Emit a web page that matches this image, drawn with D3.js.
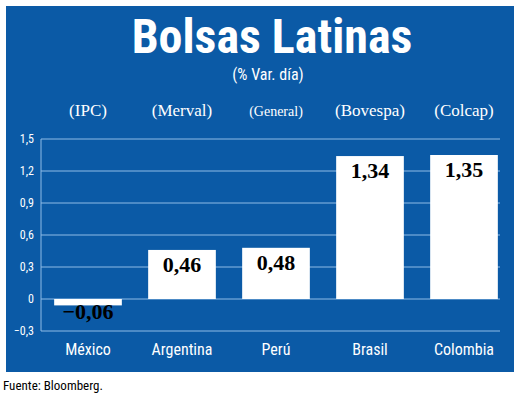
<!DOCTYPE html>
<html><head><meta charset="utf-8">
<script src="https://cdn.jsdelivr.net/npm/d3@7"></script>
<style>body{margin:0;background:#fff}</style>
</head><body>
<svg id="chart" width="520" height="412"></svg>
<script>
// Chart data
const countries = ["México", "Argentina", "Perú", "Brasil", "Colombia"];
const indices = ["(IPC)", "(Merval)", "(General)", "(Bovespa)", "(Colcap)"];
const values = [-0.06, 0.46, 0.48, 1.34, 1.35];
const ticks = [-0.3, 0, 0.3, 0.6, 0.9, 1.2, 1.5];

const svg = d3.select("#chart");
const narrow = "'Liberation Sans Narrow', 'Roboto Condensed', 'Open Sans', sans-serif";
const serif = "'Liberation Serif', 'DejaVu Serif', serif";
const fmt = v => d3.format(".2f")(v).replace(".", ",");
const tickFmt = v => v === 0 ? "0" : d3.format(".1f")(v).replace(".", ",");

svg.append("rect").attr("x", 6).attr("y", 6).attr("width", 508).attr("height", 366)
  .attr("fill", "#0b5aa6");

svg.append("text").attr("x", 272).attr("y", 53).attr("text-anchor", "middle")
  .attr("fill", "#fff").attr("font-family", narrow).attr("font-weight", "bold")
  .attr("font-size", 48).text("Bolsas Latinas");
svg.append("text").attr("x", 268).attr("y", 80).attr("text-anchor", "middle")
  .attr("fill", "#fff").attr("font-family", narrow).attr("font-size", 16).text("(% Var. día)");

const x = d3.scaleBand().domain(countries).range([41, 511]).paddingInner(0.28).paddingOuter(0.14);
const y = d3.scaleLinear().domain([-0.3, 1.5]).range([331, 139]);

// gridlines
svg.append("g").selectAll("line").data(ticks).join("line")
  .attr("x1", 41).attr("x2", 500).attr("y1", d => y(d)).attr("y2", d => y(d))
  .attr("stroke", "#8fbbe6").attr("stroke-width", 1);
svg.append("line").attr("x1", 41).attr("x2", 41).attr("y1", y(1.5)).attr("y2", y(-0.3))
  .attr("stroke", "#8fbbe6");

svg.append("g").selectAll("text").data(ticks).join("text")
  .attr("x", 34).attr("y", d => y(d) + 4).attr("text-anchor", "end")
  .attr("fill", "#fff").attr("font-family", narrow).attr("font-size", 12)
  .text(tickFmt);

svg.append("g").selectAll("rect").data(values).join("rect")
  .attr("x", (d, i) => x(countries[i])).attr("width", x.bandwidth())
  .attr("y", d => y(Math.max(0, d))).attr("height", d => Math.abs(y(d) - y(0)))
  .attr("fill", "#fff");

svg.append("g").selectAll("text").data(values).join("text")
  .attr("x", (d, i) => x(countries[i]) + x.bandwidth() / 2)
  .attr("y", d => d < 0 ? y(0) + 20 : y(d) + 22)
  .attr("text-anchor", "middle").attr("fill", "#000")
  .attr("font-family", serif).attr("font-weight", "bold").attr("font-size", 22)
  .text(fmt);

svg.append("g").selectAll("text").data(indices).join("text")
  .attr("x", (d, i) => x(countries[i]) + x.bandwidth() / 2).attr("y", 116)
  .attr("text-anchor", "middle").attr("fill", "#fff")
  .attr("font-family", serif).attr("font-size", (d, i) => i === 2 ? 14 : 17).text(d => d);

svg.append("g").selectAll("text").data(countries).join("text")
  .attr("x", d => x(d) + x.bandwidth() / 2).attr("y", 355)
  .attr("text-anchor", "middle").attr("fill", "#fff")
  .attr("font-family", narrow).attr("font-size", 16).text(d => d);

svg.append("text").attr("x", 3).attr("y", 390).attr("fill", "#000")
  .attr("font-family", narrow).attr("font-size", 13).text("Fuente: Bloomberg.");
</script>
</body></html>
